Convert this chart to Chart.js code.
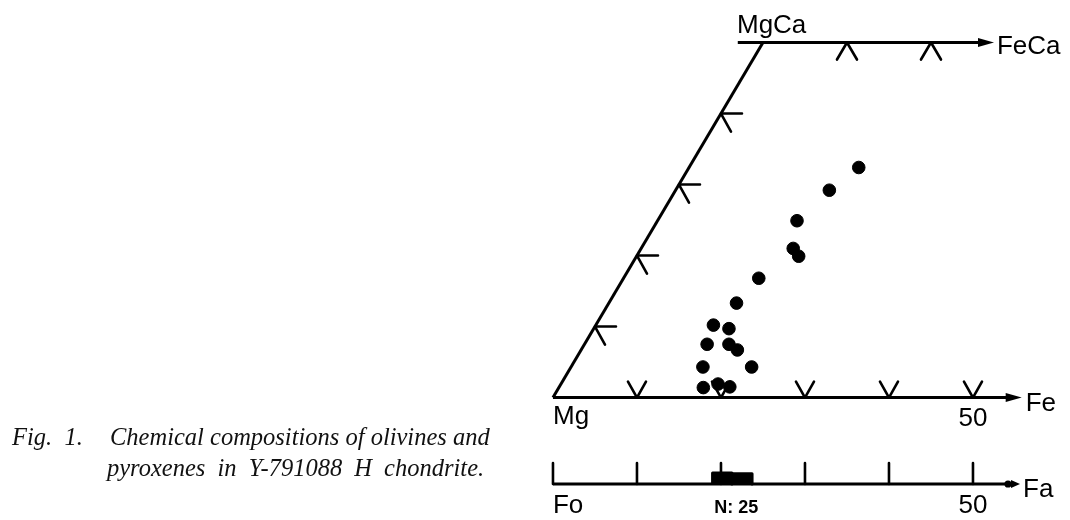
<!DOCTYPE html>
<html>
<head>
<meta charset="utf-8">
<script src="https://cdn.jsdelivr.net/npm/chart.js@4.4.1/dist/chart.umd.min.js"></script>
<style>
  html, body { margin: 0; padding: 0; background: #fff; }
  #wrap { position: relative; width: 1070px; height: 520px; overflow: hidden; }
  #chartBox { position: absolute; left: 0; top: 0; width: 1070px; height: 520px; }
  .cap { position: absolute; font-family: "Liberation Serif", "Times New Roman", serif; font-style: italic;
         font-size: 24.5px; line-height: 24px; color: #111; white-space: nowrap; }
</style>
</head>
<body>
<div id="wrap">
  <div id="chartBox"><canvas id="quad"></canvas></div>
  <div class="cap" style="left:12px; top:425px;">Fig.&nbsp; 1.</div>
  <div class="cap" style="left:110px; top:425px;">Chemical compositions of olivines and</div>
  <div class="cap" style="left:107px; top:456px; word-spacing:6px;">pyroxenes in Y-791088 H chondrite.</div>
</div>
<script>
// pyroxene analyses, mol% (Fs, Wo)
const pxFs = [20.2, 18.3, 16.6, 18.1, 19.3, 16.1, 15.2, 14.0, 16.1, 14.6, 17.2, 18.6, 15.7, 21.5, 17.2, 18.7, 20.3];
const pxWo = [32.4, 29.2, 24.9, 21.0, 19.9, 16.8, 13.3, 10.2, 9.7, 7.5, 7.5, 6.7, 4.3, 4.3, 1.4, 1.9, 1.5];

// olivine histogram, Fa mol%, N = 25
const olBinEdges = [19.0, 21.3, 23.7];
const olCounts = [13, 12];

// tick marks
const baseTicks = [10, 20, 30, 40, 50];   // Fs along En-Fs
const topTicks = [10, 20];                // Fs along Di-Hd
const sideTicks = [10, 20, 30, 40];       // Wo along En-Di
const olTicks = [0, 10, 20, 30, 40, 50];  // Fa

// axis ends (composition units)
const baseEnd = 55.8;
const topStart = -3;
const topEnd = 27.5;
const olEnd = 55.6;

// equilateral projection of a (Fs, Wo) composition
const proj = (fs, wo) => ({ x: fs + wo / 2, y: wo });

const points = pxFs.map((fs, i) => proj(fs, pxWo[i]));

const edgeStyle = { type: 'line', borderColor: '#000', borderWidth: 3, pointRadius: 0, fill: false, clip: false, tension: 0 };

const histSets = olCounts.map((n, i) => ({
    type: 'line',
    yAxisID: 'yOl',
    data: [
        { x: olBinEdges[i], y: 0 }, { x: olBinEdges[i], y: n },
        { x: olBinEdges[i + 1], y: n }, { x: olBinEdges[i + 1], y: 0 }
    ],
    borderColor: '#000',
    backgroundColor: '#000',
    borderWidth: 3,
    borderJoinStyle: 'round',
    pointRadius: 0,
    fill: 'origin',
    tension: 0
}));

const marks = {
    id: 'marks',
    beforeDatasetsDraw(chart) {
        const { ctx, scales: { x, y, yOl } } = chart;
        const X = (fs, wo) => x.getPixelForValue(fs + wo / 2);
        const Y = wo => y.getPixelForValue(wo);
        ctx.save();
        ctx.strokeStyle = '#000';
        ctx.lineWidth = 2.6;
        ctx.lineCap = 'round';
        ctx.lineJoin = 'round';
        const path = pts => {
            ctx.beginPath();
            ctx.moveTo(pts[0][0], pts[0][1]);
            pts.slice(1).forEach(p => ctx.lineTo(p[0], p[1]));
            ctx.stroke();
        };
        baseTicks.forEach(fs => {
            const a = X(fs, 0), b = Y(0);
            path([[a - 9, b - 16], [a, b], [a + 9, b - 16]]);
        });
        topTicks.forEach(fs => {
            const a = X(fs, 50), b = Y(50);
            path([[a - 10, b + 17], [a, b], [a + 10, b + 17]]);
        });
        sideTicks.forEach(wo => {
            const a = X(0, wo), b = Y(wo);
            path([[a + 21, b], [a, b], [a + 10, b + 18]]);
        });
        olTicks.forEach(fa => {
            const a = x.getPixelForValue(fa), b = yOl.getPixelForValue(0);
            path([[a, b], [a, b - 21]]);
        });
        ctx.restore();
    },
    afterDatasetsDraw(chart) {
        const { ctx, scales: { x, y, yOl } } = chart;
        const X = (fs, wo) => x.getPixelForValue(fs + wo / 2);
        const Y = wo => y.getPixelForValue(wo);
        ctx.save();
        ctx.fillStyle = '#000';
        const arrow = (a, b, len, half) => {
            ctx.beginPath();
            ctx.moveTo(a, b);
            ctx.lineTo(a - len, b - half);
            ctx.lineTo(a - len, b + half);
            ctx.closePath();
            ctx.fill();
        };
        arrow(X(baseEnd, 0), Y(0), 16, 4.5);
        arrow(X(topEnd, 50), Y(50), 16, 4.5);
        const oa = x.getPixelForValue(olEnd), ob = yOl.getPixelForValue(0);
        arrow(oa, ob, 9, 4);
        ctx.beginPath();
        ctx.arc(oa - 12, ob, 3.6, 0, Math.PI * 2);
        ctx.fill();

        const label = (text, a, b, font, align) => {
            ctx.font = font;
            ctx.textAlign = align || 'left';
            ctx.textBaseline = 'alphabetic';
            ctx.fillText(text, a, b);
        };
        const sans = '26px "Liberation Sans", Arial, sans-serif';
        label('MgCa', X(0, 50) - 26, Y(50) - 10, sans);
        label('FeCa', X(topEnd, 50) + 3, Y(50) + 11, sans);
        label('Mg', X(0, 0), Y(0) + 26, sans);
        label('50', X(50, 0), Y(0) + 28, sans, 'center');
        label('Fe', X(baseEnd, 0) + 4, Y(0) + 13, sans);
        label('Fo', x.getPixelForValue(0), ob + 29, sans);
        label('50', x.getPixelForValue(50), ob + 29, sans, 'center');
        label('Fa', oa + 3, ob + 13, sans);
        const mid = (olBinEdges[0] + olBinEdges[olBinEdges.length - 1]) / 2;
        label('N: 25', x.getPixelForValue(mid) + 4, ob + 29, 'bold 18px "Liberation Sans", Arial, sans-serif', 'center');
        ctx.restore();
    }
};

new Chart(document.getElementById('quad'), {
    type: 'scatter',
    data: {
        datasets: [
            {
                label: 'pyroxene',
                data: points,
                backgroundColor: '#000',
                borderColor: '#000',
                pointRadius: 6.3,
                pointHoverRadius: 6.3,
                clip: false
            },
            { ...edgeStyle, data: [proj(0, 0), proj(0, 50)] },
            { ...edgeStyle, data: [proj(topStart, 50), proj(topEnd - 1, 50)] },
            { ...edgeStyle, data: [proj(0, 0), proj(baseEnd - 1, 0)] },
            { ...edgeStyle, yAxisID: 'yOl', data: [{ x: 0, y: 0 }, { x: olEnd - 1, y: 0 }] },
            ...histSets
        ]
    },
    options: {
        responsive: true,
        maintainAspectRatio: false,
        animation: false,
        events: [],
        layout: { padding: 0, autoPadding: false },
        plugins: { legend: { display: false }, tooltip: { enabled: false } },
        scales: {
            x: { type: 'linear', min: -65.83, max: 61.55, display: false },
            y: { type: 'linear', min: -17.25, max: 55.99, display: false },
            yOl: { type: 'linear', min: -42.35, max: 569.4, display: false }
        }
    },
    plugins: [marks]
});
</script>
</body>
</html>
